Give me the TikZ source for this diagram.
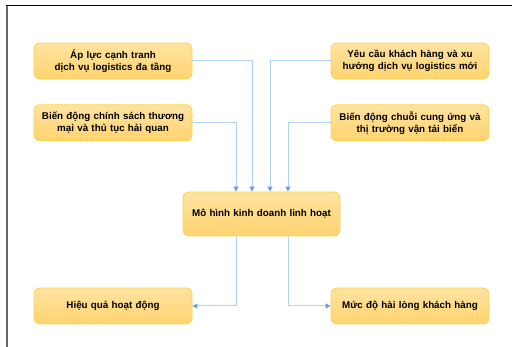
\documentclass[tikz,border=0pt]{standalone}
\usepackage{fontspec}
\setmainfont{Liberation Sans}
\usepackage{xcolor}
\usetikzlibrary{arrows.meta,positioning}

\definecolor{boxtop}{HTML}{FFE3A1}
\definecolor{boxbot}{HTML}{FFD46F}
\definecolor{boxline}{HTML}{FFD24D}
\definecolor{linkblue}{HTML}{B4D0F2}
\definecolor{tipblue}{HTML}{6F9EDB}

\begin{document}
\begin{tikzpicture}[
    x=1pt, y=-1pt,
    >={Triangle[length=5pt,width=5pt,color=tipblue]},
    block/.style={draw=boxline, line width=0.8pt, rounded corners=6pt,
                  top color=boxtop, bottom color=boxbot,
                  minimum height=36pt, minimum width=158pt, inner sep=2pt,
                  font=\bfseries\fontsize{9.8}{12}\selectfont, align=center,
                  text width=150pt},
    core/.style={block, minimum height=44pt, minimum width=157pt},
    arr/.style={->, draw=linkblue, line width=1pt},
]
\useasboundingbox (0,0) rectangle (512,347);

% --- Frame ---
\draw[gray!80!black, line width=2pt] (7,6) -- (7,347);
\draw[black, line width=1pt] (6,6) -- (512,6);

% --- Nodes ---
\node[block] (a1) at (113,61) {Áp lực cạnh tranh\\dịch vụ logistics đa tầng};
\node[block, below=25pt of a1] (a2) {Biến động chính sách thương\\mại và thủ tục hải quan};
\node[block] (b1) at (410,61) {Yêu cầu khách hàng và xu\\hướng dịch vụ logistics mới};
\node[block, below=25pt of b1] (b2) {Biến động chuỗi cung ứng và\\thị trường vận tải biển};

\node[core] (model) at (261.5,214) {Mô hình kinh doanh linh hoạt};

\node[block] (perf) at (113,306) {Hiệu quả hoạt động};
\node[block] (satis) at (410,306) {Mức độ hài lòng khách hàng};

% --- Arrows ---
\draw[arr] (a1.east) -| ([xshift=-9.5pt]model.north);
\draw[arr] (a2.east) -| ([xshift=-25.5pt]model.north);
\draw[arr] (b1.west) -| ([xshift=8.5pt]model.north);
\draw[arr] (b2.west) -| ([xshift=26.5pt]model.north);
\draw[arr] ([xshift=-25.5pt]model.south) |- (perf.east);
\draw[arr] ([xshift=26.5pt]model.south) |- (satis.west);

\end{tikzpicture}
\end{document}
